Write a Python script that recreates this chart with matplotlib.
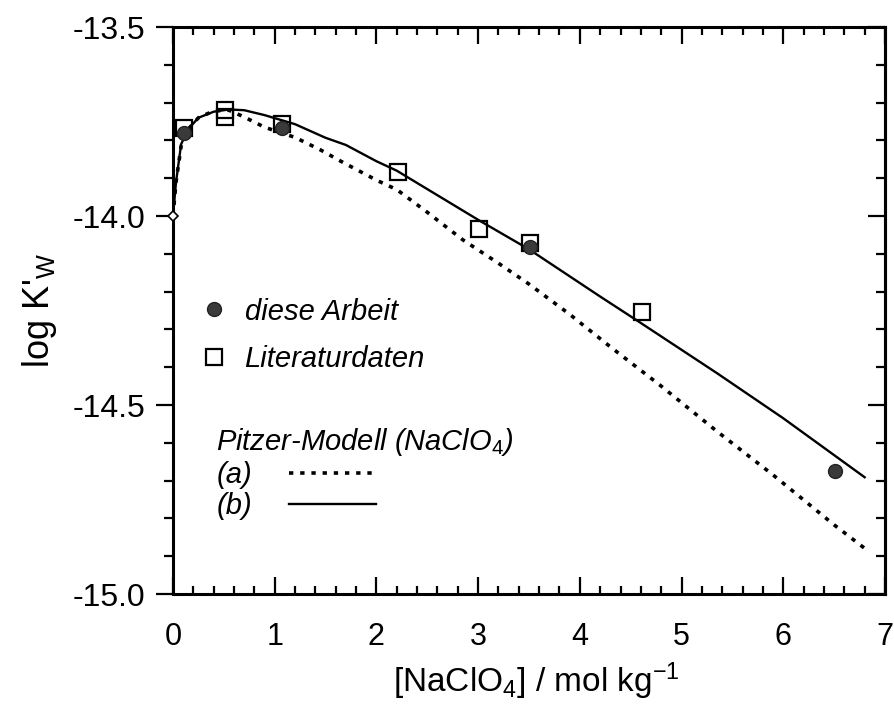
import matplotlib
matplotlib.use("Agg")
import matplotlib.pyplot as plt
from matplotlib.lines import Line2D

plt.rcParams['font.family'] = ['Liberation Sans', 'DejaVu Sans']
plt.rcParams['mathtext.fontset'] = 'custom'
plt.rcParams['mathtext.rm'] = 'Liberation Sans'
plt.rcParams['mathtext.it'] = 'Liberation Sans:italic'

# diese Arbeit (gefuellte Kreise)
arbeit_x = [0.11, 1.07, 3.51, 6.51]
arbeit_y = [-13.781, -13.768, -14.081, -14.674]

# Literaturdaten (offene Quadrate)
lit_x = [0.11, 0.51, 0.51, 1.07, 2.215, 3.01, 3.51, 4.61]
lit_y = [-13.768, -13.72, -13.738, -13.757, -13.883, -14.034, -14.072, -14.253]

# Startpunkt reines Wasser
start_x = [0.0]
start_y = [-14.0]

# Pitzer-Modell (a) gepunktet
a_x = [0, 0.03, 0.08, 0.15, 0.25, 0.4, 0.55, 0.7, 0.9, 1.2, 1.45, 1.65, 2.0, 2.2,
       2.5, 2.85, 3.2, 3.5, 3.9, 4.3, 4.8, 5.35, 5.9, 6.5, 6.8]
a_y = [-14.0, -13.91, -13.815, -13.77, -13.74, -13.722, -13.72, -13.738, -13.765,
       -13.792, -13.825, -13.855, -13.905, -13.93, -13.99, -14.063, -14.125, -14.18,
       -14.26, -14.346, -14.45, -14.57, -14.685, -14.817, -14.879]

# Pitzer-Modell (b) durchgezogen
b_x = [0, 0.03, 0.08, 0.15, 0.25, 0.4, 0.55, 0.7, 0.9, 1.2, 1.5, 1.7, 2.0, 2.2,
       2.6, 3.0, 3.5, 4.2, 4.6, 5.35, 6.0, 6.8]
b_y = [-14.0, -13.91, -13.81, -13.77, -13.74, -13.724, -13.718, -13.72, -13.733,
       -13.757, -13.793, -13.812, -13.855, -13.88, -13.945, -14.01, -14.088, -14.213,
       -14.283, -14.416, -14.535, -14.691]

dotted = (0, (1.2, 1.9))

fig = plt.figure(figsize=(8.94, 7.06), dpi=100)
ax = fig.add_axes([0.1935, 0.1586, 0.7964, 0.8031])

ax.plot(a_x, a_y, color='black', lw=2.6, linestyle=dotted)
ax.plot(b_x, b_y, color='black', lw=1.7)
ax.plot(lit_x, lit_y, 's', ms=11.5, mfc='none', mec='black', mew=1.6, ls='none')
ax.plot(arbeit_x, arbeit_y, 'o', ms=10, mfc='#3a3a3a', mec='#222222', mew=1.0, ls='none')
ax.plot(start_x, start_y, 'D', ms=5, mfc='white', mec='black', mew=1.2, ls='none', clip_on=False, zorder=5)

ax.set_xlim(0, 7)
ax.set_ylim(-15.0, -13.5)
ax.set_xticks(range(0, 8))
ax.set_xticks([i * 0.2 for i in range(36)], minor=True)
ax.set_yticks([-15.0, -14.5, -14.0, -13.5])
ax.set_yticks([-15.0 + i * 0.1 for i in range(16)], minor=True)
ax.set_yticklabels(['-15.0', '-14.5', '-14.0', '-13.5'])

for s in ax.spines.values():
    s.set_linewidth(2.2)

ax.tick_params(axis='x', which='both', direction='in', top=True, width=1.6, pad=20, labelsize=22)
ax.tick_params(axis='x', which='major', length=12)
ax.tick_params(axis='x', which='minor', length=6)
ax.tick_params(axis='y', which='both', direction='out', right=False, width=1.6, pad=8, labelsize=23)
ax.tick_params(axis='y', which='major', length=12)
ax.tick_params(axis='y', which='minor', length=6.5)

rax = ax.secondary_yaxis('right')
rax.set_yticks([-15.0, -14.5, -14.0, -13.5])
rax.set_yticks([-15.0 + i * 0.1 for i in range(16)], minor=True)
rax.tick_params(which='both', direction='in', width=1.6, labelright=False)
rax.tick_params(which='major', length=12)
rax.tick_params(which='minor', length=6.5)
rax.spines['right'].set_linewidth(2.2)

ax.set_xlabel(r"[NaClO$_{\mathregular{4}}$] / mol kg$^{\mathregular{-1}}$", fontsize=24)
ax.xaxis.set_label_coords(0.51, -0.118)
ax.set_ylabel(r"log K'$_{\mathregular{W}}$", fontsize=26)
ax.yaxis.set_label_coords(-0.16, 0.5)

h1 = [Line2D([], [], marker='o', ms=10, mfc='#3a3a3a', mec='#222222', ls='none'),
      Line2D([], [], marker='s', ms=11.5, mfc='none', mec='black', mew=1.6, ls='none')]
leg1 = ax.legend(h1, ['diese Arbeit', 'Literaturdaten'], loc='center left',
                 bbox_to_anchor=(0.037, 0.456), frameon=False, borderpad=0,
                 borderaxespad=0, handlelength=1.0, handletextpad=0.55,
                 labelspacing=0.68, prop={'style': 'italic', 'size': 21})
ax.add_artist(leg1)

h2 = [Line2D([], [], color='black', lw=2.6, linestyle=dotted),
      Line2D([], [], color='black', lw=1.7)]
leg2 = ax.legend(h2, ['(a)', '(b)'], loc='center left', bbox_to_anchor=(0.061, 0.213),
                 frameon=False, borderpad=0, borderaxespad=0, handlelength=3.0,
                 handletextpad=1.25, labelspacing=0.1, markerfirst=False,
                 title=r"Pitzer-Modell (NaClO$_{\mathit{4}}$)", alignment='left',
                 title_fontproperties={'style': 'italic', 'size': 21},
                 prop={'style': 'italic', 'size': 21})

fig.savefig('out.png', dpi=100)
